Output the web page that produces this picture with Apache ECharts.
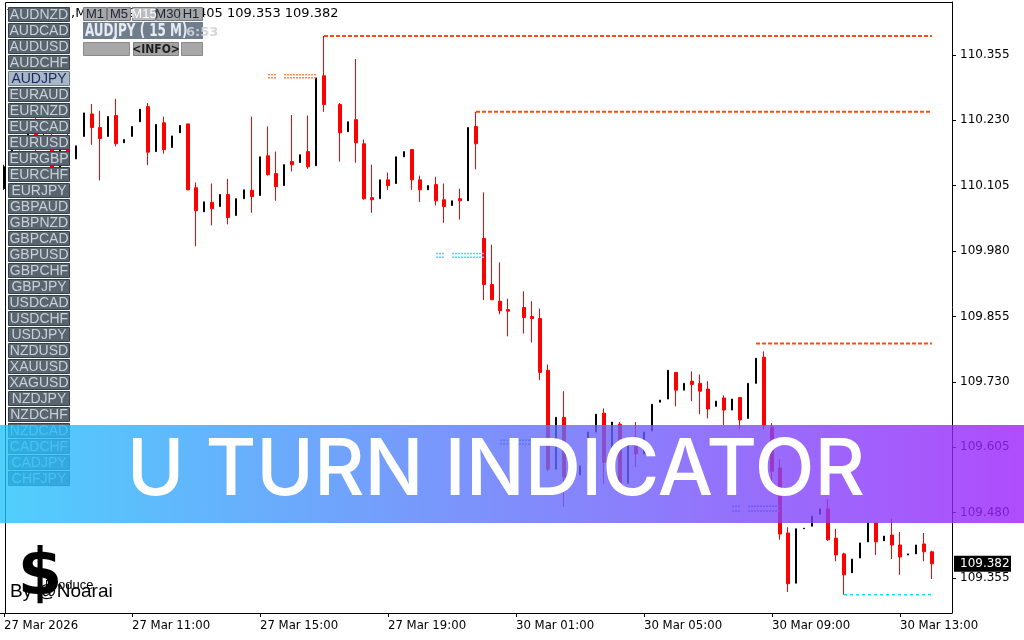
<!DOCTYPE html>
<html>
<head>
<meta charset="utf-8">
<title>AUDJPY M15 - U Turn Indicator</title>
<script src="https://cdn.jsdelivr.net/npm/echarts@6/dist/echarts.min.js"></script>
<style>
  html, body { margin: 0; padding: 0; background: #fff; }
  #chart { width: 1024px; height: 640px; }
</style>
</head>
<body>
<div id="chart"></div>
<script>
// 117 M15 bars, plus 2 empty slots of chart shift on the right
var barCount = 117;
var slotCount = 119;
var tickIndex = [0, 16, 32, 48, 64, 80, 96, 112];
var tickLabels = ['27 Mar 2026', '27 Mar 11:00', '27 Mar 15:00', '27 Mar 19:00',
                  '30 Mar 01:00', '30 Mar 05:00', '30 Mar 09:00', '30 Mar 13:00'];
var priceTicks = [110.355, 110.230, 110.105, 109.980, 109.855, 109.730, 109.605, 109.480, 109.355];

// [open, close, low, high]  (null = no bar)
var ohlc = [
  [110.099, 110.141, 110.097, 110.145], [110.158, 110.183, 110.155, 110.191], [110.170, 110.155, 110.151, 110.172],
  [110.183, 110.216, 110.181, 110.221], [110.221, 110.193, 110.170, 110.246], [110.189, 110.200, 110.187, 110.204],
  [110.189, 110.139, 110.137, 110.210], [110.136, 110.178, 110.132, 110.181], [110.193, 110.164, 110.158, 110.212],
  [110.156, 110.181, 110.156, 110.181], // 9
  [110.199, 110.244, 110.199, 110.244], [110.242, 110.216, 110.183, 110.261], [110.216, 110.195, 110.115, 110.248],
  [110.199, 110.237, 110.199, 110.237], [110.239, 110.185, 110.180, 110.271], [110.187, 110.193, 110.187, 110.193],
  [110.199, 110.218, 110.199, 110.218], [110.227, 110.251, 110.227, 110.251], [110.256, 110.169, 110.144, 110.263],
  [110.170, 110.222, 110.170, 110.222], // 19
  [110.225, 110.174, 110.166, 110.237], [110.178, 110.200, 110.178, 110.200], [110.206, 110.220, 110.206, 110.220],
  [110.223, 110.097, 110.096, 110.223], [110.101, 110.057, 109.989, 110.111], [110.055, 110.074, 110.055, 110.074],
  [110.073, 110.061, 110.029, 110.109], [110.065, 110.088, 110.065, 110.088], [110.088, 110.044, 110.031, 110.118],
  [110.048, 110.080, 110.048, 110.080], // 29
  [110.080, 110.097, 110.080, 110.097], [110.096, 110.084, 110.053, 110.237], [110.086, 110.160, 110.086, 110.160],
  [110.162, 110.126, 110.124, 110.218], [110.128, 110.103, 110.076, 110.170], [110.105, 110.145, 110.105, 110.145],
  [110.151, 110.145, 110.132, 110.240], [110.149, 110.164, 110.149, 110.164], [110.170, 110.141, 110.137, 110.239],
  [110.143, 110.311, 110.143, 110.311], // 39
  [110.315, 110.260, 110.246, 110.391], null, [110.260, 110.206, 110.151, 110.263],
  [110.208, 110.227, 110.208, 110.227], [110.231, 110.187, 110.149, 110.347], [110.185, 110.080, 110.078, 110.193],
  [110.082, 110.078, 110.053, 110.145], [110.080, 110.116, 110.080, 110.116], [110.116, 110.105, 110.097, 110.130],
  [110.109, 110.160, 110.109, 110.160], // 49
  [110.160, 110.170, 110.160, 110.170], [110.174, 110.116, 110.097, 110.174], [110.116, 110.097, 110.074, 110.124],
  [110.097, 110.105, 110.097, 110.105], [110.107, 110.076, 110.067, 110.122], [110.078, 110.065, 110.034, 110.109],
  [110.067, 110.076, 110.067, 110.076], [110.080, 110.076, 110.040, 110.099], [110.076, 110.216, 110.076, 110.216],
  [110.218, 110.185, 110.136, 110.246], // 59
  [110.004, 109.916, 109.886, 110.092], [109.916, 109.887, 109.886, 109.992], [109.884, 109.866, 109.859, 109.958],
  [109.868, 109.865, 109.817, 109.889], null, [109.872, 109.853, 109.822, 109.903],
  [109.855, 109.851, 109.805, 109.884], [109.851, 109.748, 109.733, 109.870], [109.752, 109.563, 109.559, 109.763],
  [109.563, 109.662, 109.563, 109.662], // 69
  [109.662, 109.548, 109.491, 109.712], null, [109.552, 109.569, 109.552, 109.569],
  [109.576, 109.634, 109.576, 109.634], [109.634, 109.668, 109.634, 109.668], [109.670, 109.576, 109.534, 109.679],
  [109.557, 109.653, 109.557, 109.653], [109.649, 109.536, 109.534, 109.653], [109.536, 109.622, 109.536, 109.622],
  [109.624, 109.592, 109.567, 109.653], // 79
  [109.592, 109.634, 109.592, 109.634], [109.636, 109.687, 109.636, 109.687], [109.691, 109.695, 109.691, 109.695],
  [109.697, 109.752, 109.697, 109.752], [109.748, 109.714, 109.683, 109.748], [109.714, 109.727, 109.714, 109.727],
  [109.731, 109.725, 109.693, 109.750], [109.727, 109.712, 109.668, 109.744], [109.716, 109.678, 109.660, 109.731],
  [109.683, 109.693, 109.683, 109.693], // 89
  [109.699, 109.676, 109.647, 109.704], [109.676, 109.697, 109.676, 109.697], [109.700, 109.657, 109.639, 109.700],
  [109.660, 109.727, 109.660, 109.727], [109.727, 109.775, 109.727, 109.775], [109.777, 109.647, 109.639, 109.788],
  [109.643, 109.559, 109.540, 109.651], [109.565, 109.439, 109.428, 109.582], [109.441, 109.344, 109.328, 109.452],
  [109.345, 109.449, 109.345, 109.449], // 99
  [109.449, 109.450, 109.449, 109.450], [109.454, 109.473, 109.454, 109.473], [109.477, 109.487, 109.477, 109.487],
  [109.487, 109.428, 109.426, 109.506], [109.431, 109.399, 109.387, 109.449], [109.401, 109.361, 109.323, 109.403],
  [109.365, 109.391, 109.365, 109.391], [109.393, 109.422, 109.393, 109.422], [109.424, 109.460, 109.424, 109.460],
  [109.460, 109.424, 109.399, 109.460], // 109
  [109.426, 109.435, 109.426, 109.435], [109.437, 109.418, 109.391, 109.468], [109.418, 109.395, 109.361, 109.443],
  [109.399, 109.401, 109.399, 109.401], [109.401, 109.418, 109.401, 109.418], [109.420, 109.405, 109.387, 109.441],
  [109.405, 109.382, 109.353, 109.407]  // 116
];
var lastPrice = 109.382;

// U-turn levels (start bar, price), drawn to the last bar
var resistStart = [40, 59, 94];
var resistPrice = [110.391, 110.246, 109.803];
var supportStart = [105];
var supportPrice = [109.323];

// small signal marks: two dotted rows over bar spans
var orangeSigPrices = [110.317, 110.311];
var orangeSigSpans = [[33, 34], [35, 39]];
var cyanSigPrices = [109.975, 109.968];
var cyanSigSpans = [[54, 55], [56, 60]];
var blueSigPrices = [109.618, 109.611];
var blueSigSpans = [[62, 63], [64, 68]];
var blueSig2Prices = [109.492, 109.483];
var blueSig2Spans = [[91, 92], [93, 97]];

var symbols = ['AUDNZD', 'AUDCAD', 'AUDUSD', 'AUDCHF', 'AUDJPY', 'EURAUD', 'EURNZD', 'EURCAD', 'EURUSD', 'EURGBP',
               'EURCHF', 'EURJPY', 'GBPAUD', 'GBPNZD', 'GBPCAD', 'GBPUSD', 'GBPCHF', 'GBPJPY', 'USDCAD', 'USDCHF',
               'USDJPY', 'NZDUSD', 'XAUUSD', 'XAGUSD', 'NZDJPY', 'NZDCHF', 'NZDCAD', 'CADCHF', 'CADJPY', 'CHFJPY'];
var timeframes = ['M1', 'M5', 'M15', 'M30', 'H1'];

var slots = [];
for (var i = 0; i < slotCount; i++) slots.push(String(i));

var chart = echarts.init(document.getElementById('chart'));

var bulls = [], bears = [];
for (var k = 0; k < barCount; k++) {
  var d = ohlc[k];
  bulls.push(d && d[1] >= d[0] ? d : '-');
  bears.push(d && d[1] < d[0] ? d : '-');
}

var series = [
  {
    type: 'candlestick', name: 'bull', data: bulls, barWidth: 2, z: 3,
    itemStyle: { color: '#000', color0: '#000', borderColor: '#000', borderColor0: '#000', borderWidth: 1 }
  },
  {
    type: 'candlestick', name: 'bear', data: bears, barWidth: 4, z: 3,
    itemStyle: { color: '#ff0000', color0: '#ff0000', borderColor: '#ff0000', borderColor0: '#ff0000', borderWidth: 1 }
  }
];

function levelLine(start, price, color, dash, width) {
  return {
    type: 'line', data: [[start, price], [barCount - 1, price]], symbol: 'none', z: 4, silent: true,
    lineStyle: { color: color, width: width, type: dash }
  };
}
for (var r = 0; r < resistStart.length; r++) {
  series.push(levelLine(resistStart[r], resistPrice[r], '#ff4a10', [4, 2], 2));
}
for (var s = 0; s < supportStart.length; s++) {
  series.push(levelLine(supportStart[s], supportPrice[s], '#00e5ff', [3, 3], 1.5));
}
function signalMarks(prices, spans, color) {
  prices.forEach(function (p) {
    spans.forEach(function (sp) {
      series.push({
        type: 'line', data: [[sp[0], p], [sp[1], p]], symbol: 'none', z: 4, silent: true,
        lineStyle: { color: color, width: 1.5, type: [2, 1] }
      });
    });
  });
}
signalMarks(orangeSigPrices, orangeSigSpans, '#ff8a50');
signalMarks(cyanSigPrices, cyanSigSpans, '#30e8ff');
signalMarks(blueSigPrices, blueSigSpans, '#4a8cff');
signalMarks(blueSig2Prices, blueSig2Spans, '#4a8cff');

var option = {
  animation: false,
  backgroundColor: '#ffffff',
  grid: { left: 0, right: 72, top: 2, bottom: 27 },
  xAxis: {
    type: 'category',
    data: slots,
    boundaryGap: true,
    axisLine: { show: true, lineStyle: { color: '#000', width: 1 } },
    axisTick: {
      show: true, alignWithLabel: true, length: 4, lineStyle: { color: '#000' },
      interval: function (idx) { return tickIndex.indexOf(idx) >= 0; }
    },
    axisLabel: {
      interval: function (idx) { return tickIndex.indexOf(idx) >= 0; },
      formatter: function (v, idx) { var t = tickIndex.indexOf(idx); return t >= 0 ? tickLabels[t] : ''; },
      align: 'left', margin: 6, color: '#000', fontSize: 13,
      fontFamily: '"DejaVu Sans Condensed", "DejaVu Sans", sans-serif'
    },
    splitLine: { show: false }
  },
  yAxis: {
    type: 'value',
    position: 'right',
    min: 109.288,
    max: 110.456,
    scale: true,
    axisLine: { show: true, lineStyle: { color: '#000', width: 1 } },
    axisTick: { show: true, length: 4, customValues: priceTicks, lineStyle: { color: '#000' } },
    axisLabel: {
      customValues: priceTicks, margin: 8, color: '#000', fontSize: 12,
      fontFamily: '"DejaVu Sans", sans-serif',
      formatter: function (v) { return v.toFixed(3); }
    },
    splitLine: { show: false }
  },
  series: series
};
chart.setOption(option);

// overlay panels and texts
var g = [];
// plot frame (left + top)
g.push({ type: 'polyline', z: 50, shape: { points: [[5.5, 613], [5.5, 2.5], [952.5, 2.5]] },
  style: { stroke: '#000', lineWidth: 1, fill: null } });

// last price box
var py = chart.convertToPixel({ yAxisIndex: 0 }, lastPrice);
g.push({ type: 'rect', z: 60, shape: { x: 954, y: py - 8, width: 57, height: 16 }, style: { fill: '#000' } });
g.push({ type: 'text', z: 61, style: { text: lastPrice.toFixed(3), x: 960, y: py, fill: '#fff',
  font: '12px "DejaVu Sans"', textAlign: 'left', textVerticalAlign: 'middle' } });

// header line
g.push({ type: 'polygon', z: 60, shape: { points: [[7, 9], [17, 9], [12, 16]] }, style: { fill: '#000' } });
g.push({ type: 'text', z: 55, style: { text: ',M15  109.395 109.405 109.353 109.382', x: 71, y: 14,
  fill: '#000', font: '13px "DejaVu Sans"', textAlign: 'left', textVerticalAlign: 'middle' } });

// symbol buttons
symbols.forEach(function (name, i) {
  var y = 7 + i * 16;
  var sel = name === 'AUDJPY';
  g.push({ type: 'rect', z: 70, shape: { x: 8.5, y: y + 0.5, width: 61, height: 14 },
    style: { fill: sel ? '#a9b6c6' : '#59646e', stroke: sel ? '#6c7a8a' : '#34444c', lineWidth: 1 } });
  g.push({ type: 'text', z: 71, style: { text: name, x: 39, y: y + 8, fill: sel ? '#1b2a5c' : '#c9d1d8',
    font: '14px "Liberation Sans"', textAlign: 'center', textVerticalAlign: 'middle' } });
});

// timeframe buttons
var tfX = [83, 107, 132, 156, 179];
timeframes.forEach(function (tf, i) {
  var cur = tf === 'M15';
  g.push({ type: 'rect', z: 70, shape: { x: tfX[i] + 0.5, y: 7.5, width: 23, height: 13 },
    style: { fill: cur ? '#b9bcc0' : '#a4a6a8', stroke: '#7a7c80', lineWidth: 1 } });
  g.push({ type: 'text', z: 71, style: { text: tf, x: tfX[i] + 12, y: 14.5, fill: cur ? '#ffffff' : '#1c2433',
    font: '13px "Liberation Sans"', textAlign: 'center', textVerticalAlign: 'middle' } });
});
g.push({ type: 'rect', z: 70, shape: { x: 83, y: 22, width: 120, height: 17 }, style: { fill: '#6f7d8c' } });
g.push({ type: 'text', z: 71, x: 85, y: 31, scaleX: 0.74, style: { text: 'AUDJPY ( 15 M)', x: 0, y: 0, fill: '#e6ecf2',
  font: 'bold 18px "DejaVu Sans Condensed"', textAlign: 'left', textVerticalAlign: 'middle' } });
g.push({ type: 'text', z: 72, style: { text: '6:53', x: 186, y: 33, fill: 'rgba(205,210,216,0.9)',
  font: 'bold 13px "DejaVu Sans"', textAlign: 'left', textVerticalAlign: 'middle' } });
g.push({ type: 'rect', z: 70, shape: { x: 83.5, y: 42.5, width: 46, height: 13 }, style: { fill: '#a8a8a8', stroke: '#8a8a8a' } });
g.push({ type: 'rect', z: 70, shape: { x: 133.5, y: 42.5, width: 45, height: 13 }, style: { fill: '#a2a2a2', stroke: '#7e7e7e' } });
g.push({ type: 'rect', z: 70, shape: { x: 181.5, y: 42.5, width: 21, height: 13 }, style: { fill: '#a8a8a8', stroke: '#8a8a8a' } });
g.push({ type: 'text', z: 71, style: { text: '<INFO>', x: 156, y: 49.5, fill: '#1e1e1e',
  font: 'bold 12px "DejaVu Sans Condensed"', textAlign: 'center', textVerticalAlign: 'middle' } });

// bottom-left signature
g.push({ type: 'text', z: 55, style: { text: '$', x: 40, y: 577, fill: '#000',
  font: 'bold 64px "DejaVu Sans"', textAlign: 'center', textVerticalAlign: 'middle' } });
g.push({ type: 'text', z: 56, style: { text: 'Produce', x: 45, y: 585, fill: '#000',
  font: '13px "Liberation Sans"', textAlign: 'left', textVerticalAlign: 'middle' } });
g.push({ type: 'text', z: 56, style: { text: 'By @Noarai', x: 10, y: 592, fill: '#000',
  font: '19px "Liberation Sans"', textAlign: 'left', textVerticalAlign: 'middle' } });

// title banner
g.push({ type: 'rect', z: 90, shape: { x: 0, y: 425, width: 1024, height: 98 },
  style: { opacity: 0.8, fill: new echarts.graphic.LinearGradient(0, 0, 1, 0, [
    { offset: 0, color: '#24c3fb' }, { offset: 1, color: '#9c1ffb' }]) } });
g.push({ type: 'text', z: 91, style: { text: 'U TURN INDICATOR', x: 496, y: 472, fill: '#ffffff',
  font: '500 78px Inter', textAlign: 'center', textVerticalAlign: 'middle' } });

chart.setOption({ graphic: g });

window.addEventListener('resize', function () { chart.resize(); });
</script>
</body>
</html>
